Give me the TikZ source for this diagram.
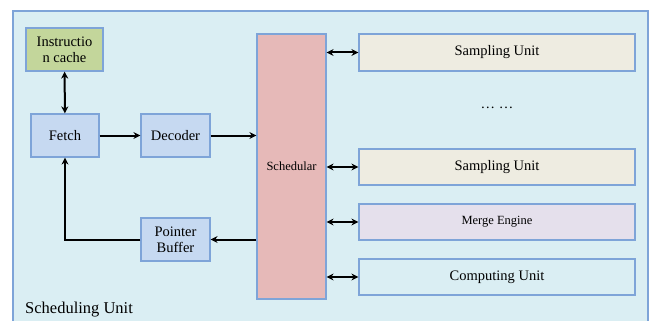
\documentclass[tikz,border=0pt]{standalone}
\usepackage{fontspec}
\setmainfont{Liberation Serif}
\usepackage{tikz}
\usetikzlibrary{positioning,arrows.meta}

\definecolor{unitbg}{HTML}{DAEEF3}
\definecolor{frameblue}{HTML}{7EA4D8}
\definecolor{boxblue}{HTML}{C6D9F1}
\definecolor{cachegreen}{HTML}{C3D69B}
\definecolor{schedred}{HTML}{E6B9B8}
\definecolor{sampbeige}{HTML}{EEECE1}
\definecolor{mergelav}{HTML}{E5E0EC}

\tikzset{
	blk/.style={draw=frameblue, line width=1.2pt, fill=boxblue, minimum width=68pt, minimum height=43pt, align=center, font=\fontsize{14.5}{16}\selectfont, inner sep=1pt},
	wide/.style={blk, minimum width=276pt, minimum height=36pt},
	link/.style={line width=2pt, -{Stealth[length=7pt,width=7pt]}},
	dlink/.style={line width=2pt, {Stealth[length=7pt,width=7pt]}-{Stealth[length=7pt,width=7pt]}}
}

\begin{document}
\begin{tikzpicture}[x=1pt, y=-1pt]
		\useasboundingbox (0,0) rectangle (653,321);
		\clip (0,0) rectangle (653,321);
		% outer unit, runs past the bottom edge
		\fill[unitbg] (13,11) rectangle (648,330);
		\draw[frameblue, line width=1.2pt] (13,330) -- (13,11) -- (648,11) -- (648,330);
		\node[anchor=base west, inner sep=0pt, font=\fontsize{16.5}{18}\selectfont] (lbl) at (25,313) {Scheduling Unit};

		% left column
		\node[blk, fill=cachegreen, minimum width=77pt] (icache) at (64.5,49.5) {Instructio\\n cache};
		\node[blk] (fetch) at (65,135.5) {Fetch};
		\node[blk, minimum width=69pt] (decoder) at (175.5,135.5) {Decoder};
		\node[blk, minimum width=69pt] (pbuf) at (175.5,239.5) {Pointer\\Buffer};
		\node[blk, fill=schedred, minimum width=69pt, minimum height=265pt, font=\fontsize{12.5}{14}\selectfont] (sched) at (291.5,166.5) {Schedular};

		% right column
		\node[wide, fill=sampbeige, minimum height=37pt] (samp1) at (497,52.5) {Sampling Unit};
		\node[font=\fontsize{14.5}{16}\selectfont] (dots) at (497,108) {\dots\ \dots};
		\node[wide, fill=sampbeige] (samp2) at (497,167) {Sampling Unit};
		\node[wide, fill=mergelav, font=\fontsize{12.5}{14}\selectfont] (merge) at (497,222) {Merge Engine};
		\node[wide, fill=unitbg] (comp) at (497,277) {Computing Unit};

		% connections
		\draw[dlink] (icache) -- (fetch);
		\draw[link] (fetch) -- (decoder);
		\draw[link] (decoder.east) -- (decoder.east -| sched.west);
		\draw[link] (pbuf.east -| sched.west) -- (pbuf.east);
		\draw[link] (pbuf.west) -| (fetch.south);
		\draw[dlink] (samp1.west -| sched.east) -- (samp1.west);
		\draw[dlink] (samp2.west -| sched.east) -- (samp2.west);
		\draw[dlink] (merge.west -| sched.east) -- (merge.west);
		\draw[dlink] (comp.west -| sched.east) -- (comp.west);

	\end{tikzpicture}
\end{document}
